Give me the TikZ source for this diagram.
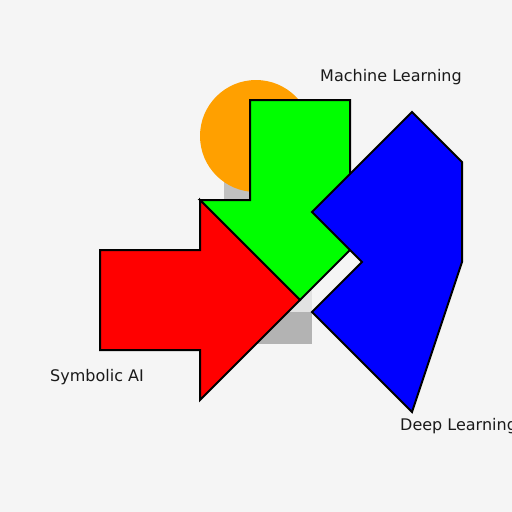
\documentclass[tikz,border=0pt]{standalone}
\usepackage{fontspec}
\setmainfont{DejaVu Sans}
\definecolor{bgcol}{RGB}{245,245,245}
\definecolor{sunorange}{RGB}{255,160,0}
\definecolor{shadelight}{RGB}{226,226,226}
\definecolor{shadetop}{RGB}{192,192,192}
\definecolor{shadedark}{RGB}{179,179,179}
\definecolor{labelcol}{RGB}{26,26,26}
\tikzset{
  piece/.style={draw=black,line width=2pt,line join=miter},
  field/.style={anchor=base west,inner sep=0pt,text=labelcol,
    font=\fontsize{16}{19}\selectfont}
}
\begin{document}
\begin{tikzpicture}[x=1pt,y=-1pt]
  \fill[bgcol] (0,0) rectangle (512,512);
  \clip (0,0) rectangle (512,512);
  % shadows
  \fill[shadetop] (224,180) rectangle (250,200);
  \fill[shadelight] (250,200) rectangle (312,312);
  \fill[shadedark] (224,312) rectangle (312,344);
  \fill[sunorange] (256,136) circle[radius=56];
  % machine learning
  \draw[piece,fill=green]
    (250,100) -- (350,100) -- (350,200) -- (400,200)
    -- (300,300) -- (200,200) -- (250,200) -- cycle;
  % symbolic ai
  \draw[piece,fill=red]
    (100,250) -- (200,250) -- (200,200) -- (300,300)
    -- (200,400) -- (200,350) -- (100,350) -- cycle;
  % deep learning
  \coordinate (top) at (412,112);
  \coordinate (corner) at (462,162);
  \coordinate (side) at (462,262);
  \coordinate (bottom) at (412,412);
  \coordinate (lower) at (312,312);
  \coordinate (notch) at (362,262);
  \coordinate (upper) at (312,212);
  \draw[piece,fill=blue]
    (top) -- (corner) -- (side) -- (bottom)
    -- (lower) -- (notch) -- (upper) -- cycle;
  \node[field] (ml) at (320,81) {Machine Learning};
  \node[field] (dl) at (400,430) {Deep Learning};
  \node[field] (sym) at (50,381) {Symbolic AI};
\end{tikzpicture}
\end{document}
